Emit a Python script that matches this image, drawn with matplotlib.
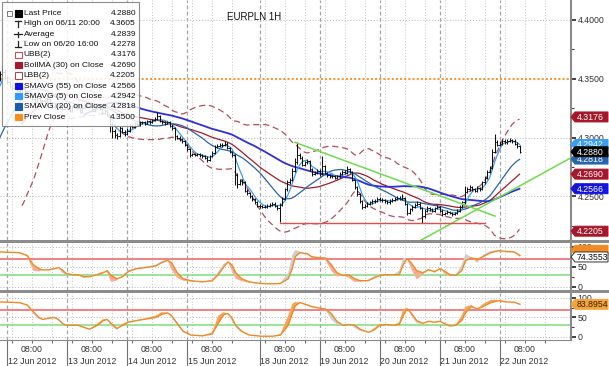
import numpy as np
import pandas as pd
import matplotlib
matplotlib.use("Agg")
import matplotlib.pyplot as plt
from matplotlib.patches import Rectangle, Polygon
from matplotlib.lines import Line2D
from matplotlib.transforms import blended_transform_factory

plt.rcParams['font.family'] = ['Liberation Sans', 'DejaVu Sans']

# ---- hourly EURPLN bars, first bar at hour -23 (hour 0 = 12 Jun session start)
first_hour = -23
first_open = 4.2650
close = [
    4.2640, 4.2610, 4.2660, 4.2700, 4.2680, 4.2650, 4.2690, 4.2720, 4.2750, 4.2800,
    4.2870, 4.2950, 4.3040, 4.3120, 4.3200, 4.3270, 4.3320, 4.3380, 4.3430, 4.3490,
    4.3540, 4.3560, 4.3510, 4.3470, 4.3440, 4.3420, 4.3450, 4.3400, 4.3380, 4.3420,
    4.3390, 4.3350, 4.3370, 4.3330, 4.3300, 4.3340, 4.3310, 4.3280, 4.3300, 4.3330,
    4.3290, 4.3260, 4.3280, 4.3250, 4.3270, 4.3240, 4.3260, 4.3250, 4.3230, 4.3260,
    4.3280, 4.3250, 4.3220, 4.3250, 4.3270, 4.3290, 4.3260, 4.3230, 4.3250, 4.3280,
    4.3240, 4.3210, 4.3230, 4.3190, 4.3120, 4.3060, 4.3020, 4.3010, 4.3080, 4.3050,
    4.3030, 4.3060, 4.3100, 4.3090, 4.3120, 4.3110, 4.3130, 4.3130, 4.3120, 4.3140,
    4.3130, 4.3150, 4.3160, 4.3180, 4.3140, 4.3130, 4.3120, 4.3130, 4.3100, 4.3080,
    4.3010, 4.3000, 4.2990, 4.2970, 4.2940, 4.2900, 4.2850, 4.2860, 4.2850, 4.2860,
    4.2850, 4.2840, 4.2830, 4.2810, 4.2840, 4.2870, 4.2920, 4.2930, 4.2940, 4.2935,
    4.2950, 4.2910, 4.2880, 4.2850, 4.2680, 4.2610, 4.2630, 4.2620, 4.2550, 4.2530,
    4.2500, 4.2480, 4.2450, 4.2420, 4.2415, 4.2410, 4.2410, 4.2420, 4.2430, 4.2440,
    4.2420, 4.2400, 4.2430, 4.2480, 4.2560, 4.2620, 4.2640, 4.2720, 4.2790, 4.2850,
    4.2830, 4.2770, 4.2790, 4.2800, 4.2730, 4.2690, 4.2700, 4.2720, 4.2690, 4.2760,
    4.2700, 4.2680, 4.2670, 4.2670, 4.2660, 4.2670, 4.2690, 4.2710, 4.2700, 4.2730,
    4.2710, 4.2640, 4.2580, 4.2520, 4.2460, 4.2410, 4.2420, 4.2440, 4.2450, 4.2460,
    4.2460, 4.2480, 4.2470, 4.2470, 4.2460, 4.2450, 4.2460, 4.2470, 4.2480, 4.2490,
    4.2480, 4.2490, 4.2440, 4.2360, 4.2390, 4.2410, 4.2430, 4.2440, 4.2400, 4.2330,
    4.2380, 4.2400, 4.2390, 4.2380, 4.2400, 4.2410, 4.2380, 4.2350, 4.2360, 4.2370,
    4.2360, 4.2350, 4.2360, 4.2380, 4.2410, 4.2450, 4.2540, 4.2560, 4.2580, 4.2560,
    4.2550, 4.2570, 4.2560, 4.2620, 4.2660, 4.2710, 4.2740, 4.2880, 4.2960, 4.2940,
    4.2950, 4.2970, 4.2960, 4.2970, 4.2980, 4.2970, 4.2950, 4.2930, 4.2880,
]
high = [
    4.2670, 4.2655, 4.2675, 4.2715, 4.2712, 4.2690, 4.2702, 4.2735, 4.2768, 4.2815,
    4.2890, 4.2968, 4.3060, 4.3140, 4.3222, 4.3290, 4.3342, 4.3400, 4.3452, 4.3515,
    4.3570, 4.3605, 4.3580, 4.3528, 4.3485, 4.3458, 4.3468, 4.3462, 4.3415, 4.3435,
    4.3432, 4.3402, 4.3385, 4.3380, 4.3345, 4.3352, 4.3350, 4.3322, 4.3315, 4.3342,
    4.3340, 4.3302, 4.3295, 4.3290, 4.3282, 4.3278, 4.3272, 4.3270, 4.3262, 4.3272,
    4.3295, 4.3290, 4.3260, 4.3262, 4.3285, 4.3305, 4.3298, 4.3270, 4.3265, 4.3292,
    4.3290, 4.3250, 4.3245, 4.3238, 4.3195, 4.3130, 4.3075, 4.3040, 4.3095, 4.3092,
    4.3065, 4.3078, 4.3115, 4.3112, 4.3135, 4.3130, 4.3145, 4.3142, 4.3140, 4.3152,
    4.3150, 4.3162, 4.3175, 4.3222, 4.3190, 4.3152, 4.3140, 4.3142, 4.3138, 4.3112,
    4.3090, 4.3025, 4.3012, 4.3000, 4.2980, 4.2950, 4.2908, 4.2872, 4.2870, 4.2872,
    4.2868, 4.2860, 4.2850, 4.2840, 4.2852, 4.2885, 4.2935, 4.2948, 4.2955, 4.2952,
    4.2975, 4.2960, 4.2920, 4.2890, 4.2858, 4.2700, 4.2650, 4.2645, 4.2628, 4.2565,
    4.2540, 4.2512, 4.2490, 4.2460, 4.2432, 4.2428, 4.2425, 4.2432, 4.2442, 4.2455,
    4.2450, 4.2430, 4.2445, 4.2495, 4.2575, 4.2640, 4.2660, 4.2740, 4.2830, 4.2965,
    4.2870, 4.2840, 4.2805, 4.2815, 4.2808, 4.2740, 4.2715, 4.2735, 4.2730, 4.2846,
    4.2770, 4.2712, 4.2692, 4.2685, 4.2680, 4.2685, 4.2705, 4.2725, 4.2722, 4.2760,
    4.2742, 4.2718, 4.2650, 4.2592, 4.2530, 4.2472, 4.2438, 4.2455, 4.2465, 4.2475,
    4.2478, 4.2495, 4.2492, 4.2488, 4.2482, 4.2472, 4.2475, 4.2485, 4.2495, 4.2505,
    4.2502, 4.2520, 4.2498, 4.2448, 4.2405, 4.2425, 4.2445, 4.2458, 4.2450, 4.2410,
    4.2395, 4.2415, 4.2410, 4.2400, 4.2412, 4.2425, 4.2420, 4.2390, 4.2372, 4.2382,
    4.2380, 4.2370, 4.2372, 4.2395, 4.2425, 4.2465, 4.2590, 4.2578, 4.2595, 4.2590,
    4.2570, 4.2585, 4.2580, 4.2635, 4.2678, 4.2728, 4.2760, 4.2900, 4.3034, 4.2980,
    4.2975, 4.2990, 4.2985, 4.2988, 4.2998, 4.2992, 4.2985, 4.2965, 4.2940,
]
low = [
    4.2625, 4.2600, 4.2605, 4.2650, 4.2668, 4.2638, 4.2642, 4.2680, 4.2710, 4.2742,
    4.2795, 4.2860, 4.2940, 4.3030, 4.3110, 4.3185, 4.3255, 4.3310, 4.3365, 4.3420,
    4.3478, 4.3525, 4.3495, 4.3455, 4.3425, 4.3405, 4.3410, 4.3388, 4.3365, 4.3372,
    4.3378, 4.3338, 4.3340, 4.3318, 4.3288, 4.3292, 4.3300, 4.3268, 4.3270, 4.3292,
    4.3280, 4.3250, 4.3252, 4.3240, 4.3242, 4.3230, 4.3232, 4.3240, 4.3220, 4.3222,
    4.3252, 4.3240, 4.3210, 4.3212, 4.3242, 4.3262, 4.3250, 4.3220, 4.3222, 4.3242,
    4.3232, 4.3200, 4.3202, 4.3180, 4.3050, 4.3000, 4.2995, 4.2990, 4.3005, 4.3040,
    4.3018, 4.3020, 4.3050, 4.3078, 4.3082, 4.3098, 4.3100, 4.3118, 4.3108, 4.3112,
    4.3120, 4.3122, 4.3140, 4.3150, 4.3130, 4.3120, 4.3110, 4.3112, 4.3090, 4.3065,
    4.2980, 4.2985, 4.2975, 4.2955, 4.2928, 4.2885, 4.2838, 4.2840, 4.2840, 4.2842,
    4.2838, 4.2830, 4.2818, 4.2790, 4.2800, 4.2832, 4.2862, 4.2910, 4.2920, 4.2922,
    4.2925, 4.2900, 4.2870, 4.2835, 4.2600, 4.2570, 4.2595, 4.2600, 4.2535, 4.2515,
    4.2488, 4.2465, 4.2438, 4.2408, 4.2400, 4.2398, 4.2398, 4.2400, 4.2410, 4.2422,
    4.2408, 4.2385, 4.2282, 4.2420, 4.2470, 4.2550, 4.2605, 4.2630, 4.2710, 4.2780,
    4.2815, 4.2755, 4.2760, 4.2778, 4.2715, 4.2678, 4.2680, 4.2690, 4.2678, 4.2685,
    4.2690, 4.2668, 4.2658, 4.2655, 4.2648, 4.2650, 4.2660, 4.2680, 4.2688, 4.2690,
    4.2698, 4.2628, 4.2565, 4.2505, 4.2445, 4.2395, 4.2400, 4.2410, 4.2430, 4.2438,
    4.2445, 4.2450, 4.2458, 4.2455, 4.2448, 4.2435, 4.2440, 4.2450, 4.2460, 4.2470,
    4.2468, 4.2470, 4.2430, 4.2345, 4.2350, 4.2380, 4.2400, 4.2420, 4.2390, 4.2278,
    4.2320, 4.2370, 4.2378, 4.2368, 4.2370, 4.2390, 4.2370, 4.2338, 4.2340, 4.2348,
    4.2348, 4.2338, 4.2340, 4.2350, 4.2372, 4.2400, 4.2440, 4.2530, 4.2550, 4.2548,
    4.2538, 4.2540, 4.2548, 4.2552, 4.2610, 4.2650, 4.2700, 4.2730, 4.2870, 4.2925,
    4.2930, 4.2940, 4.2945, 4.2950, 4.2960, 4.2955, 4.2935, 4.2915, 4.2870,
]

# ---- oscillator panels (hour, slow line, fast line)
osc_hours = [-2.8, 5.0, 8.1, 10.5, 12.8, 14.3, 16.7, 19.0, 20.6, 22.1, 23.7, 26.0,
             28.4, 30.7, 33.0, 36.2, 38.5, 40.1, 41.6, 44.0, 46.3, 48.6, 51.7, 55.6,
             59.5, 61.9, 64.2, 65.8, 68.1, 70.4, 73.6, 78.2, 82.1, 84.5, 86.8, 88.4,
             89.9, 91.5, 93.8, 96.9, 101.6, 106.3, 109.4, 112.5, 114.1, 115.3, 117.2,
             120.3, 121.9, 125.0, 127.3, 129.7, 132.0, 134.3, 136.7, 139.0, 141.3,
             144.5, 146.8, 149.1, 151.5, 154.6, 156.9, 158.5, 160.0, 161.6, 163.9,
             166.3, 168.6, 171.0, 173.3, 174.8, 177.2, 179.5, 181.9, 183.4, 185.8,
             188.1, 190.4, 193.5, 196.7, 199.8, 202.9, 205.2]
osc1_slow = [87, 85, 78, 55, 45, 42, 42, 45, 48, 42, 33, 30, 30, 25, 25, 30, 35, 40,
             28, 20, 25, 38, 45, 48, 52, 60, 66, 60, 35, 20, 15, 12, 15, 30, 50, 62,
             55, 35, 20, 12, 8, 7, 8, 20, 45, 75, 85, 82, 75, 72, 72, 55, 35, 28, 30,
             20, 15, 15, 22, 28, 30, 30, 30, 55, 70, 60, 40, 35, 42, 38, 45, 40, 30,
             28, 40, 65, 72, 68, 75, 85, 90, 88, 87, 78]
osc1_fast = [87, 85, 75, 40, 38, 42, 44, 47, 48, 35, 30, 32, 30, 22, 27, 33, 38, 35,
             12, 16, 30, 42, 47, 50, 55, 64, 68, 42, 22, 15, 13, 12, 18, 38, 58, 62,
             40, 20, 14, 10, 7, 8, 10, 35, 80, 92, 88, 80, 72, 74, 68, 40, 25, 28, 22,
             12, 12, 18, 26, 30, 28, 31, 40, 72, 72, 45, 18, 30, 46, 34, 48, 33, 26,
             30, 55, 82, 74, 60, 80, 90, 92, 86, 86, 74.3553]
osc2_slow = [90, 88, 82, 65, 50, 45, 48, 50, 45, 35, 30, 30, 30, 25, 20, 30, 42, 45,
             35, 22, 30, 38, 42, 46, 50, 58, 62, 55, 35, 15, 5, 3, 8, 35, 58, 60, 50,
             30, 15, 5, 2, 2, 5, 30, 60, 80, 88, 82, 78, 74, 72, 60, 40, 30, 32, 30,
             20, 12, 18, 30, 32, 30, 32, 55, 72, 62, 42, 35, 40, 38, 40, 35, 28, 30,
             42, 62, 78, 72, 78, 88, 93, 90, 89, 83.8954]
osc2_fast = [90, 88, 80, 60, 46, 45, 50, 50, 42, 33, 30, 31, 30, 23, 20, 35, 46, 44,
             28, 18, 34, 40, 43, 48, 55, 64, 62, 50, 30, 12, 4, 3, 12, 55, 64, 58, 42,
             25, 12, 4, 2, 2, 8, 55, 85, 90, 88, 80, 76, 74, 70, 45, 32, 30, 34, 24,
             15, 12, 22, 34, 30, 30, 38, 72, 74, 55, 35, 34, 42, 36, 40, 33, 28, 32,
             55, 78, 82, 70, 85, 95, 95, 90, 88, 84]

# ---- drawn annotations
desc_trend_h = [115.2, 195.2]
desc_trend_p = [4.2960, 4.2333]
asc_trend_h = [165.2, 225.6]
asc_trend_p = [4.2124, 4.2829]
support_h = [109.0, 191.0]
support_p = [4.2278, 4.2278]
prev_close = 4.3500

day_starts = [0, 24, 48, 72, 101, 125, 149, 173, 197]
day_labels = ['12 Jun 2012', '13 Jun 2012', '14 Jun 2012', '15 Jun 2012', '18 Jun 2012',
              '19 Jun 2012', '20 Jun 2012', '21 Jun 2012', '22 Jun 2012']

legend_labels = ['Last Price', 'High on 06/11 20:00', 'Average', 'Low on 06/20 16:00',
                 'UBB(2)', 'BollMA (30) on Close', 'LBB(2)', 'SMAVG (55) on Close',
                 'SMAVG (5) on Close', 'SMAVG (20) on Close', 'Prev Close']
legend_values = ['4.2880', '4.3605', '4.2839', '4.2278', '4.3176', '4.2690', '4.2205',
                 '4.2566', '4.2942', '4.2818', '4.3500']

C_BAND = '#B0505E'
C_MID = '#A01C2E'
C_S55 = '#2E2EDC'
C_S5 = '#3C9EF2'
C_S20 = '#2A64AA'
C_ORANGE = '#F08A24'

# ---------------------------------------------------------------
W, H = 609, 366
fig = plt.figure(figsize=(W / 100, H / 100), dpi=100)
fig.patch.set_facecolor('white')


def fx(px):
    return px / W


def fy(py):
    return 1 - py / H


XL = (-2.8, 225.6)
panels = [(0, 240, 4.2130, 4.4170), (243, 290, -8.25, 109.25), (293, 340, -7.7, 112.8)]
axes = []
for top, bot, lo, hi in panels:
    a = fig.add_axes([0, fy(bot), fx(571), (bot - top) / H])
    a.set_xlim(*XL)
    a.set_ylim(lo, hi)
    for s in ['top', 'left', 'bottom']:
        a.spines[s].set_visible(False)
    a.spines['right'].set_color('#8a8a8a')
    a.spines['right'].set_linewidth(1.5)
    a.yaxis.tick_right()
    a.tick_params(axis='y', which='major', direction='out', length=3.5, width=1.4,
                  color='#404040', labelsize=6.3, labelcolor='#333333', pad=1.2)
    a.tick_params(axis='y', which='minor', direction='out', length=2, width=0.8, color='#404040')
    a.tick_params(axis='x', which='both', bottom=False, labelbottom=False)
    axes.append(a)
ax, ax1, ax2 = axes


def y_pix(val, k):
    top, bot, lo, hi = panels[k]
    return bot - (val - lo) / (hi - lo) * (bot - top)


# grid lines
for a in axes:
    for b in day_starts:
        a.axvline(b, color='#A6A6A6', lw=0.9, ls=(0, (3, 2)), zorder=0)
        for off in (2, 10, 18):
            a.axvline(b + off, color='#C4C4C4', lw=0.7, ls=(0, (1, 2)), zorder=0)

for v in [4.25, 4.30, 4.40]:
    ax.axhline(v, color='#B4B4B4', lw=0.7, ls=(0, (1, 2)), zorder=0)
for a in (ax1, ax2):
    for v in [0, 50, 100]:
        a.axhline(v, color='#B4B4B4', lw=0.7, ls=(0, (1, 2)), zorder=0)

ax.set_yticks([4.25, 4.30, 4.35, 4.40])
ax.set_yticklabels(['%.4f' % v for v in [4.25, 4.30, 4.35, 4.40]])
ax.set_yticks([4.225, 4.275, 4.325, 4.375], minor=True)
for a in (ax1, ax2):
    a.set_yticks([0, 50, 100])
    a.set_yticklabels(['0', '50', '100'])
    a.set_yticks([25, 75], minor=True)

# ---- main price panel
hours = np.arange(first_hour, first_hour + len(close))
cl = pd.Series(close)
opens = np.r_[first_open, close[:-1]]
sma5 = cl.rolling(5).mean()
sma20 = cl.rolling(20).mean()
sma55 = cl.rolling(55).mean()
mid = cl.rolling(30).mean()
sd = cl.rolling(30).std()
ubb = mid + 2 * sd
lbb = mid - 2 * sd

ax.axhline(prev_close, color='#F39A3A', lw=1.5, ls=(0, (1, 1)), zorder=1)
ax.plot(hours, ubb, color=C_BAND, lw=0.9, ls=(0, (5, 3)), zorder=2)
ax.plot(hours, lbb, color=C_BAND, lw=0.9, ls=(0, (5, 3)), zorder=2)
ax.plot(hours, mid, color=C_MID, lw=0.9, zorder=2)
ax.plot(hours, sma55, color=C_S55, lw=1.3, zorder=2)
ax.plot(hours, sma20, color=C_S20, lw=0.9, zorder=2)
ax.plot(hours, sma5, color=C_S5, lw=0.9, zorder=3)

ax.vlines(hours, low, high, color='#111111', lw=0.75, zorder=4)
ax.hlines(opens, hours - 0.5, hours, color='#111111', lw=0.7, zorder=4)
ax.hlines(close, hours, hours + 0.5, color='#111111', lw=0.7, zorder=4)

ax.plot(desc_trend_h, desc_trend_p, color='#6EDB4E', lw=1.1, zorder=5)
ax.plot(asc_trend_h, asc_trend_p, color='#6EDB4E', lw=1.1, zorder=5)
ax.plot(support_h, support_p, color='#E0504A', lw=1.0, zorder=5)

# ---- oscillator panels
oh = np.array(osc_hours)
for a, slow, fast, c_up, c_dn in [(ax1, osc1_slow, osc1_fast, '#CFCFCF', '#F7AE92'),
                                  (ax2, osc2_slow, osc2_fast, '#F6A65A', '#CFCFCF')]:
    s = np.array(slow, float)
    f = np.array(fast, float)
    a.axhline(70, color='#F07878', lw=1.3, zorder=1)
    a.axhline(30, color='#7EDC7E', lw=1.1, zorder=1)
    a.fill_between(oh, s, f, where=f >= s, interpolate=True, color=c_up, lw=0, zorder=2)
    a.fill_between(oh, s, f, where=f < s, interpolate=True, color=c_dn, lw=0, zorder=2)
    a.plot(oh, s, color=C_ORANGE, lw=1.0, zorder=3)

# bottom axis: day separators, 8h ticks, labels
ax2.spines['bottom'].set_visible(True)
ax2.spines['bottom'].set_color('#8a8a8a')
ax2.set_xticks(day_starts)
ax2.set_xticks([b + o for b in day_starts for o in (2, 10, 18)], minor=True)
ax2.tick_params(axis='x', which='major', bottom=True, direction='out', length=19,
                width=0.8, color='#707070', labelbottom=False)
ax2.tick_params(axis='x', which='minor', bottom=True, direction='out', length=2.5,
                width=0.8, color='#707070')
tb = blended_transform_factory(ax2.transData, fig.transFigure)
for b, lab in zip(day_starts, day_labels):
    ax2.text(b + 10, fy(350), '08:00', transform=tb, ha='center', va='center',
             fontsize=6.3, color='#333333', clip_on=False)
    ax2.text(b + 10, fy(361), lab, transform=tb, ha='center', va='center',
             fontsize=6.3, color='#333333', clip_on=False)

# panel separators
for y0 in (240, 290):
    fig.add_artist(Rectangle((0, fy(y0 + 3)), 1, 3 / H, transform=fig.transFigure,
                             fc='#8C8C8C', ec='none', zorder=2))

# title
fig.text(fx(254), fy(17), 'EURPLN 1H', ha='center', va='center', fontsize=7, color='#111111')

# ---- value tags on the right
zt = [10]


def tag(py, text, fc, tc, ec=None):
    z = zt[0]
    pts = [(571, py), (575, py - 5), (608, py - 5), (608, py + 5), (575, py + 5)]
    fig.add_artist(Polygon([(fx(x), fy(y)) for x, y in pts], closed=True,
                           transform=fig.transFigure, fc=fc, ec=ec or fc, lw=0.7, zorder=z))
    if text:
        fig.text(fx(577), fy(py + 0.4), text, color=tc, fontsize=6.3, ha='left',
                 va='center', zorder=z + 0.5)
    zt[0] += 1


main_tags = [(4.3176, '#A5182B'), (4.2942, C_S5), (4.2818, C_S20), (4.2880, '#000000'),
             (4.2690, '#A5182B'), (4.2566, '#1414DD'), (4.2205, '#A5182B')]
for v, c in main_tags:
    tag(y_pix(v, 0), '%.4f' % v, c, 'white')
tag(y_pix(91, 1), '', C_ORANGE, 'white')
tag(y_pix(osc1_fast[-1], 1), '%.4f' % osc1_fast[-1], 'white', '#111111', ec='#333333')
tag(y_pix(osc2_slow[-1], 2), '%.4f' % osc2_slow[-1], '#F3A43C', '#3A2200')

# ---- legend box
fig.add_artist(Rectangle((fx(2), fy(126)), 137 / W, 124 / H, transform=fig.transFigure,
                         fc='white', ec='#7A7A7A', lw=0.8, alpha=0.86, zorder=5))
fig.add_artist(Rectangle((fx(7), fy(16)), 5 / W, 5 / H, transform=fig.transFigure,
                         fc='white', ec='#666666', lw=0.6, zorder=6))
icon = [('sq', '#000000'), ('T', '#222222'), ('plus', '#222222'), ('iT', '#222222'),
        ('open', '#C05060'), ('sq', '#A8182E'), ('open', '#9A5050'), ('sq', '#1010E6'),
        ('sq', '#2E9BFF'), ('sq', '#1A5CB0'), ('sq', '#FF8A1E')]
for i, (lab, val) in enumerate(zip(legend_labels, legend_values)):
    yc = 13.3 + 10.35 * i
    kind, col = icon[i]
    if kind in ('sq', 'open'):
        fig.add_artist(Rectangle((fx(15), fy(yc + 3.3)), 6.5 / W, 6.5 / H,
                                 transform=fig.transFigure,
                                 fc=col if kind == 'sq' else 'white', ec=col, lw=0.8, zorder=6))
    else:
        segs = {'T': [([15, 21], [yc - 3, yc - 3]), ([18, 18], [yc - 3, yc + 3.5])],
                'iT': [([15, 21], [yc + 3, yc + 3]), ([18, 18], [yc - 3.5, yc + 3])],
                'plus': [([14, 22], [yc, yc]), ([18, 18], [yc - 2.5, yc + 2.5])]}[kind]
        for xs, ys in segs:
            fig.add_artist(Line2D([fx(x) for x in xs], [fy(y) for y in ys],
                                  transform=fig.transFigure, color=col, lw=0.9, zorder=6))
    fig.text(fx(23.5), fy(yc + 0.3), lab, ha='left', va='center', fontsize=6.0,
             color='#111111', zorder=7)
    fig.text(fx(136), fy(yc + 0.3), val, ha='right', va='center', fontsize=6.0,
             color='#111111', zorder=7)

fig.savefig('out.png', dpi=100, facecolor='white')
